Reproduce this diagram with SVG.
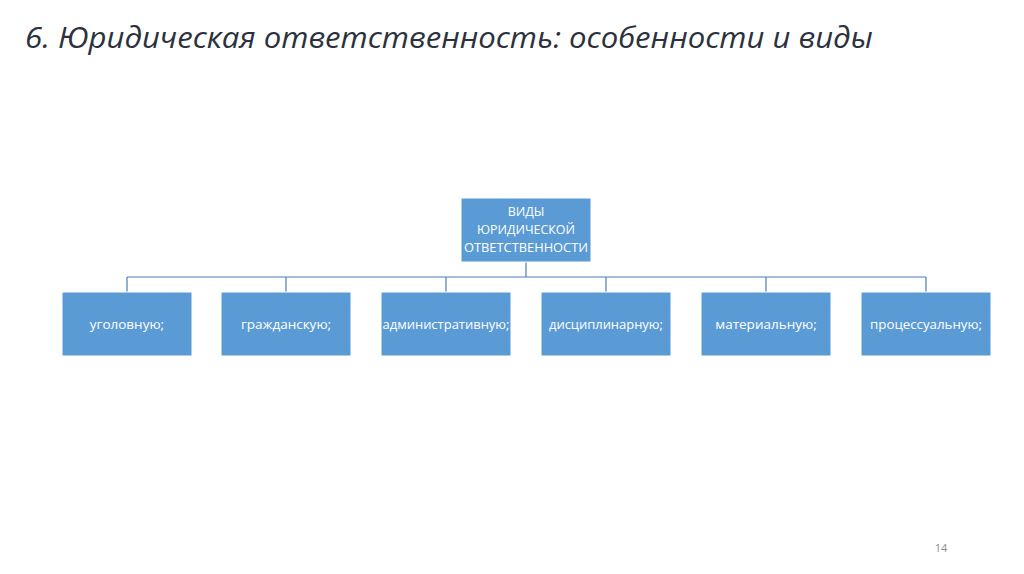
<svg xmlns="http://www.w3.org/2000/svg" width="1024" height="574" viewBox="0 0 1024 574">
<style>
.box{fill:#5b9bd5;stroke:#ffffff;stroke-width:1}
.lbl{font-family:"Open Sans","Noto Sans",sans-serif;font-size:12.5px;fill:#ffffff;text-anchor:middle}
.big{font-size:13.5px}
.conn{stroke:#4a7ebb;stroke-width:1.2;fill:none}
.title{font-family:"Open Sans","Noto Sans",sans-serif;font-style:italic;font-size:29px;fill:#2b323d}
</style>
<rect width="1024" height="574" fill="#ffffff"/>
<text class="title" x="25" y="48" textLength="848" lengthAdjust="spacingAndGlyphs">6. Юридическая ответственность: особенности и виды</text>
<g id="connectors">
<path class="conn" d="M526 262V277M127 277H926M127 277V292M286 277V292M446 277V292M606 277V292M766 277V292M926 277V292"/>
</g>
<g id="root">
<rect class="box" x="461" y="198" width="130" height="64"/>
<text class="lbl" x="526" y="216">ВИДЫ</text>
<text class="lbl" x="526" y="234" textLength="98" lengthAdjust="spacingAndGlyphs">ЮРИДИЧЕСКОЙ</text>
<text class="lbl" x="526" y="252" textLength="124" lengthAdjust="spacingAndGlyphs">ОТВЕТСТВЕННОСТИ</text>
</g>
<g id="n1"><rect class="box" x="62" y="292" width="130" height="64"/><text class="lbl big" x="127" y="329">уголовную;</text></g>
<g id="n2"><rect class="box" x="221" y="292" width="130" height="64"/><text class="lbl big" x="286" y="329">гражданскую;</text></g>
<g id="n3"><rect class="box" x="381" y="292" width="130" height="64"/><text class="lbl big" x="446" y="329" textLength="127" lengthAdjust="spacingAndGlyphs">административную;</text></g>
<g id="n4"><rect class="box" x="541" y="292" width="130" height="64"/><text class="lbl big" x="606" y="329" textLength="114" lengthAdjust="spacingAndGlyphs">дисциплинарную;</text></g>
<g id="n5"><rect class="box" x="701" y="292" width="130" height="64"/><text class="lbl big" x="766" y="329">материальную;</text></g>
<g id="n6"><rect class="box" x="861" y="292" width="130" height="64"/><text class="lbl big" x="926" y="329" textLength="112" lengthAdjust="spacingAndGlyphs">процессуальную;</text></g>
<text x="941" y="552" style="font-family:'Open Sans','Noto Sans',sans-serif;font-size:11px;fill:#8c8c8c;text-anchor:middle">14</text>
</svg>
